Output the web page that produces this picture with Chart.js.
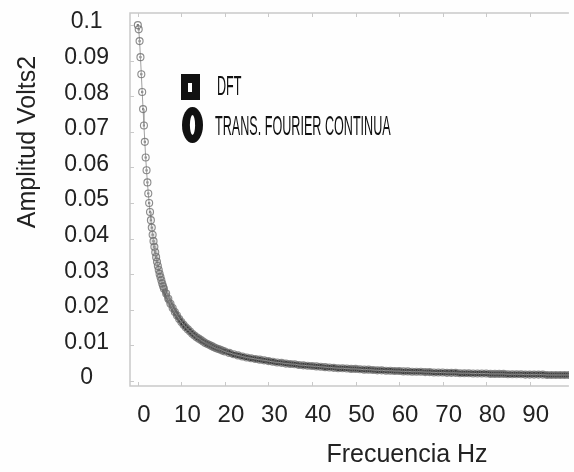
<!DOCTYPE html>
<html>
<head>
<meta charset="utf-8">
<script src="https://cdn.jsdelivr.net/npm/chart.js@4.4.1/dist/chart.umd.min.js"></script>
<style>
  body { margin: 0; background: #fefefe; }
  canvas { display: block; }
</style>
</head>
<body>
<canvas id="myChart" width="574" height="472"></canvas>
<script>
// frecuencias (Hz)
let frecuencias = [
  0, 0.2, 0.4, 0.6, 0.8, 1.0, 1.2, 1.4, 1.6, 1.8, 2.0, 2.2, 2.4, 2.6, 2.8, 3.0,
  3.2, 3.4, 3.6, 3.8, 4.0, 4.2, 4.4, 4.6, 4.8, 5.0, 5.2, 5.4, 5.6, 5.8, 6.0,
  6.5, 7.0, 7.5, 8.0, 8.5, 9.0, 9.5, 10.0, 10.5, 11.0, 11.5, 12.0, 12.5, 13.0,
  13.5, 14.0, 14.5, 15.0, 15.5, 16.0, 16.5, 17.0, 17.5, 18.0, 18.5, 19.0, 19.5, 20.0,
  21, 22, 23, 24, 25, 26, 27, 28, 29, 30, 31, 32, 33, 34, 35, 36, 37, 38, 39, 40,
  41, 42, 43, 44, 45, 46, 47, 48, 49, 50, 51, 52, 53, 54, 55, 56, 57, 58, 59, 60,
  61, 62, 63, 64, 65, 66, 67, 68, 69, 70, 71, 72, 73, 74, 75, 76, 77, 78, 79, 80,
  81, 82, 83, 84, 85, 86, 87, 88, 89, 90, 91, 92, 93, 94, 95, 96, 97, 98, 99, 100
];

// amplitud (Volts2)
let amplitud = [
  0.1000, 0.0988, 0.0955, 0.0910, 0.0862, 0.0812, 0.0764, 0.0718, 0.0672, 0.0628,
  0.0592, 0.0558, 0.0527, 0.0500, 0.0475, 0.0452, 0.0431, 0.0411, 0.0393, 0.0377,
  0.0362, 0.0348, 0.0335, 0.0323, 0.0312, 0.0301, 0.0292, 0.0283, 0.0274, 0.0266, 0.0259,
  0.0246, 0.0231, 0.0217, 0.0205, 0.0194, 0.0184, 0.0174, 0.0166, 0.0158, 0.0151,
  0.0145, 0.0139, 0.0133, 0.0128, 0.0123, 0.0119, 0.0115, 0.0111, 0.0107, 0.0104,
  0.0101, 0.0098, 0.0095, 0.0092, 0.0090, 0.0088, 0.0085, 0.0083,
  0.0079, 0.0075, 0.0072, 0.0069, 0.0066, 0.0064, 0.0062, 0.0060, 0.0058, 0.0056,
  0.0054, 0.0052, 0.0051, 0.0049, 0.0048, 0.0047, 0.0045, 0.0044, 0.0043, 0.0042,
  0.0041, 0.0040, 0.0039, 0.0038, 0.0037, 0.0036, 0.0036, 0.0035, 0.0034, 0.0034,
  0.0033, 0.0032, 0.0032, 0.0031, 0.0030, 0.0030, 0.0029, 0.0029, 0.0028, 0.0028,
  0.0027, 0.0027, 0.0026, 0.0026, 0.0026, 0.0025, 0.0025, 0.0024, 0.0024, 0.0024,
  0.0023, 0.0023, 0.0023, 0.0022, 0.0022, 0.0022, 0.0021, 0.0021, 0.0021, 0.0021,
  0.0020, 0.0020, 0.0020, 0.0020, 0.0019, 0.0019, 0.0019, 0.0019, 0.0018, 0.0018,
  0.0018, 0.0018, 0.0018, 0.0017, 0.0017, 0.0017, 0.0017, 0.0017, 0.0017, 0.0016
];

let xTicks = [0, 10, 20, 30, 40, 50, 60, 70, 80, 90];
let yTicks = [0, 0.01, 0.02, 0.03, 0.04, 0.05, 0.06, 0.07, 0.08, 0.09, 0.1];
let series = ['DFT', 'TRANS. FOURIER CONTINUA'];

let puntos = frecuencias.map((f, i) => ({ x: f, y: amplitud[i] }));

let fontFam = '"Liberation Sans", Arial, sans-serif';

// marco, marcas hacia adentro, titulos de ejes y leyenda
let decoPlugin = {
  id: 'deco',
  afterDraw(chart) {
    let ctx = chart.ctx;
    let a = chart.chartArea;
    let xs = chart.scales.x, ys = chart.scales.y;
    ctx.save();
    ctx.strokeStyle = '#c9c9c9';
    ctx.lineWidth = 1.5;
    ctx.beginPath();
    ctx.moveTo(a.right, a.top); ctx.lineTo(a.left, a.top);
    ctx.lineTo(a.left, a.bottom); ctx.lineTo(a.right, a.bottom);
    ctx.stroke();
    ctx.lineWidth = 1;
    ctx.beginPath();
    xTicks.forEach(v => {
      let px = Math.round(xs.getPixelForValue(v)) + 0.5;
      ctx.moveTo(px, a.bottom); ctx.lineTo(px, a.bottom - 4);
      ctx.moveTo(px, a.top); ctx.lineTo(px, a.top + 4);
    });
    yTicks.forEach(v => {
      let py = Math.round(ys.getPixelForValue(v)) + 0.5;
      ctx.moveTo(a.left, py); ctx.lineTo(a.left + 4, py);
    });
    ctx.stroke();

    // titulos
    ctx.fillStyle = '#222';
    ctx.font = '25px ' + fontFam;
    ctx.textAlign = 'center';
    ctx.textBaseline = 'middle';
    ctx.fillText('Frecuencia Hz', 407, 455);
    ctx.save();
    ctx.translate(28, 142);
    ctx.rotate(-Math.PI / 2);
    ctx.fillText('Amplitud Volts2', 0, 0);
    ctx.restore();

    // leyenda
    ctx.fillStyle = '#111';
    ctx.fillRect(181, 74, 19, 26);
    ctx.fillStyle = '#fff';
    ctx.fillRect(188, 83, 4, 9);
    ctx.fillStyle = '#111';
    ctx.beginPath();
    ctx.ellipse(192.5, 125, 10.5, 18, 0, 0, Math.PI * 2);
    ctx.fill();
    ctx.fillStyle = '#fff';
    ctx.beginPath();
    ctx.ellipse(192.5, 125, 2.6, 10, 0, 0, Math.PI * 2);
    ctx.fill();

    ctx.fillStyle = '#111';
    ctx.font = '28px ' + fontFam;
    ctx.textAlign = 'left';
    ctx.textBaseline = 'alphabetic';
    [[series[0], 217, 95], [series[1], 215, 135]].forEach(it => {
      ctx.save();
      ctx.translate(it[1], it[2]);
      ctx.scale(0.45, 1);
      ctx.fillText(it[0], 0, 0);
      ctx.restore();
    });
    ctx.restore();
  }
};

// la banda se oscurece donde los marcadores se amontonan
function bandColor(c) {
  let f = c.p1.parsed.x;
  let t = Math.min(1, Math.max(0, (f - 2.5) / 8));
  return 'rgba(58,58,58,' + t.toFixed(2) + ')';
}

let chart = new Chart(document.getElementById('myChart').getContext('2d'), {
  type: 'line',
  data: {
    datasets: [
      {
        label: series[1],
        data: puntos,
        showLine: true,
        borderColor: '#a0a0a0',
        borderWidth: 1,
        pointStyle: 'circle',
        pointRadius: 3.5,
        pointBorderColor: 'rgba(110,110,110,0.8)',
        pointBackgroundColor: 'rgba(255,255,255,0)',
        pointBorderWidth: 1.1
      },
      {
        label: series[0],
        data: puntos,
        showLine: true,
        borderWidth: 5.5,
        segment: { borderColor: bandColor },
        pointStyle: 'rect',
        pointRadius: 1.5,
        pointBackgroundColor: 'rgba(80,80,80,0.8)',
        pointBorderWidth: 0
      }
    ]
  },
  options: {
    responsive: false,
    animation: false,
    layout: { padding: { left: 0, top: 0, right: 0, bottom: 0 } },
    plugins: {
      legend: { display: false },
      tooltip: { enabled: false }
    },
    scales: {
      x: {
        type: 'linear',
        min: -1.8,
        max: 99,
        afterBuildTicks: s => { s.ticks = xTicks.map(v => ({ value: v })); },
        afterFit: s => { s.height = 86; },
        grid: { display: true, drawOnChartArea: false, drawTicks: true, tickLength: 15, tickColor: 'rgba(0,0,0,0)' },
        border: { display: false },
        ticks: {
          padding: 0,
          labelOffset: 6,
          color: '#222',
          font: { family: fontFam, size: 24 }
        }
      },
      y: {
        type: 'linear',
        min: -0.0014,
        max: 0.1034,
        afterBuildTicks: s => { s.ticks = yTicks.map(v => ({ value: v })); },
        afterFit: s => { s.width = 130; s.paddingTop = 13; },
        grid: { display: true, drawOnChartArea: false, drawTicks: true, tickLength: 21, tickColor: 'rgba(0,0,0,0)' },
        border: { display: false },
        ticks: {
          padding: 0,
          crossAlign: 'center',
          labelOffset: -3,
          color: '#222',
          font: { family: fontFam, size: 23 },
          callback: v => String(Math.round(v * 100) / 100)
        }
      }
    }
  },
  plugins: [decoPlugin]
});
</script>
</body>
</html>
